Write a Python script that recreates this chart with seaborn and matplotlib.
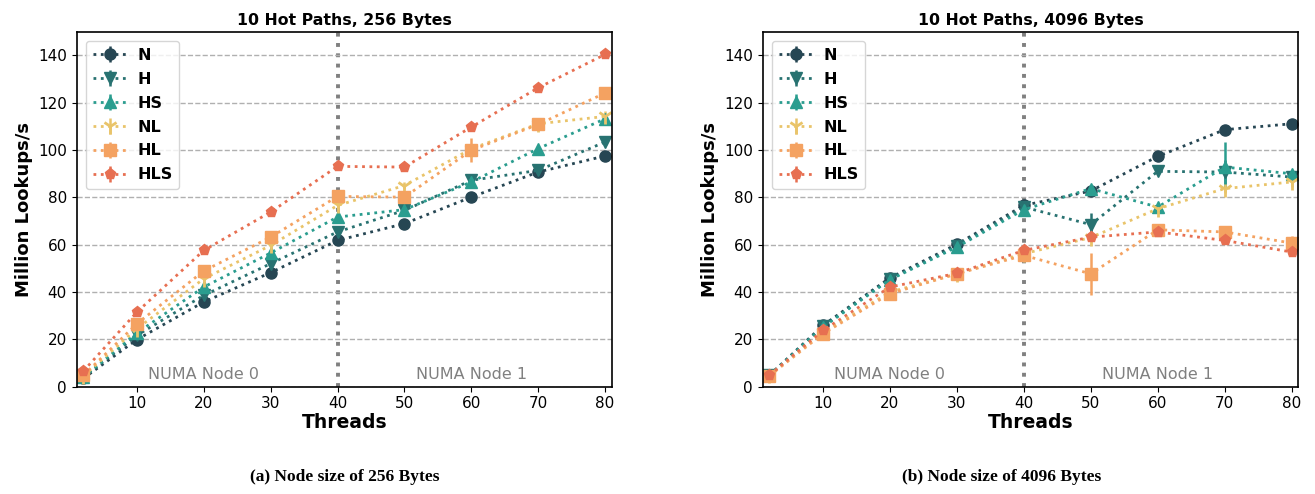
import seaborn as sns
import matplotlib.pyplot as plt
import numpy as np

sns.set_style('ticks')
plt.rcParams['font.family'] = ['DejaVu Sans']
plt.rcParams['text.color'] = 'black'
plt.rcParams['axes.labelcolor'] = 'black'
plt.rcParams['xtick.color'] = 'black'
plt.rcParams['ytick.color'] = 'black'

threads = [2, 10, 20, 30, 40, 50, 60, 70, 80]
labels = ['N', 'H', 'HS', 'NL', 'HL', 'HLS']

# 256 bytes
n_256 = [3.5, 19.9, 35.8, 48.2, 61.8, 68.9, 80.1, 90.7, 97.5]
h_256 = [4.0, 21.7, 38.6, 52.0, 65.4, 74.5, 87.2, 91.4, 103.4]
hs_256 = [4.0, 22.7, 42.1, 56.5, 71.7, 74.8, 86.5, 100.6, 113.2]
nl_256 = [4.5, 24.5, 45.6, 59.7, 76.6, 85.0, 100.5, 111.1, 114.2]
hl_256 = [4.8, 26.6, 48.9, 63.2, 80.4, 80.1, 99.9, 110.8, 124.1]
hls_256 = [6.6, 31.5, 57.6, 73.8, 93.1, 92.8, 109.7, 126.3, 140.4]
err_256 = {
    'N': [0.3, 0.5, 0.5, 0.5, 0.5, 0.5, 0.5, 0.5, 0.5],
    'H': [0.3, 0.5, 0.5, 0.5, 0.5, 0.5, 0.5, 0.5, 0.5],
    'HS': [0.3, 0.5, 0.5, 0.5, 0.5, 0.5, 0.5, 0.5, 0.5],
    'NL': [0.3, 0.5, 0.5, 0.5, 1.5, 1.5, 1.0, 0.5, 2.5],
    'HL': [0.3, 0.5, 0.5, 0.5, 0.5, 0.5, 5.0, 0.5, 1.0],
    'HLS': [0.3, 0.5, 0.5, 0.5, 0.5, 0.5, 0.5, 0.5, 0.5],
}

# 4096 bytes
n_4096 = [4.8, 25.9, 46.0, 60.2, 76.6, 82.7, 97.3, 108.6, 111.1]
h_4096 = [4.8, 25.5, 45.5, 59.5, 75.9, 68.5, 91.0, 90.7, 88.6]
hs_4096 = [4.8, 25.2, 45.2, 59.0, 74.8, 83.7, 75.9, 92.8, 90.0]
nl_4096 = [4.8, 23.0, 40.0, 47.7, 56.2, 63.0, 75.2, 83.7, 86.5]
hl_4096 = [4.6, 22.4, 39.3, 47.7, 55.5, 47.7, 66.3, 65.4, 60.7]
hls_4096 = [4.9, 23.8, 42.1, 47.9, 57.6, 63.2, 65.4, 61.8, 56.9]
err_4096 = {
    'N': [0.3, 0.5, 0.5, 0.5, 0.5, 0.5, 0.5, 0.5, 0.5],
    'H': [0.3, 0.5, 0.5, 0.5, 0.5, 5.0, 0.5, 5.0, 0.5],
    'HS': [0.3, 0.5, 0.5, 0.5, 0.5, 0.5, 0.5, 10.5, 0.5],
    'NL': [0.3, 0.5, 0.5, 0.5, 0.5, 0.5, 0.5, 2.0, 2.0],
    'HL': [0.3, 0.5, 0.5, 0.5, 0.5, 9.0, 0.5, 0.5, 3.0],
    'HLS': [0.3, 0.5, 0.5, 0.5, 0.5, 0.5, 0.5, 0.5, 0.5],
}

colors = ['#264653', '#287271', '#2a9d8f', '#e9c46a', '#f4a261', '#e76f51']
markers = ['o', 'v', '^', '1', 's', 'p']

panels = [
    ('10 Hot Paths, 256 Bytes', [n_256, h_256, hs_256, nl_256, hl_256, hls_256], err_256,
     '(a) Node size of 256 Bytes'),
    ('10 Hot Paths, 4096 Bytes', [n_4096, h_4096, hs_4096, nl_4096, hl_4096, hls_4096], err_4096,
     '(b) Node size of 4096 Bytes'),
]

fig = plt.figure(figsize=(13.15, 4.94), dpi=100)
ax_pos = [[0.0583, 0.2172, 0.4069, 0.7186], [0.58, 0.2172, 0.4073, 0.7186]]
cap_x = [0.262, 0.762]

for i, (title, series, errs, caption) in enumerate(panels):
    ax = fig.add_axes(ax_pos[i])
    for lab, vals, c, m in zip(labels, series, colors, markers):
        ms = 11 if m == '1' else 8
        mew = 2 if m == '1' else 1
        ax.errorbar(threads, vals, yerr=errs[lab], color=c, ecolor=c, marker=m,
                    markersize=ms, markeredgewidth=mew, linestyle=':', linewidth=2,
                    elinewidth=1.8, capsize=0, label=lab)
    ax.axvline(40, color='#808080', linestyle=':', linewidth=2.8, zorder=0)
    ax.text(20, 5, 'NUMA Node 0', color='#808080', fontsize=11.5, ha='center', va='center')
    ax.text(60, 5, 'NUMA Node 1', color='#808080', fontsize=11.5, ha='center', va='center')
    ax.set_xlim(1, 81)
    ax.set_ylim(0, 150)
    ax.set_xticks(range(10, 81, 10))
    ax.set_yticks(range(0, 141, 20))
    ax.yaxis.grid(True, linestyle='--', color='#b0b0b0', linewidth=1)
    ax.set_axisbelow(True)
    ax.tick_params(labelsize=11, colors='black')
    for s in ax.spines.values():
        s.set_color('black')
        s.set_linewidth(1.2)
    ax.set_title(title, fontsize=11.3, fontweight='bold', pad=5)
    ax.set_xlabel('Threads', fontsize=13.5, fontweight='bold', labelpad=1)
    ax.set_ylabel('Million Lookups/s', fontsize=13, fontweight='bold')
    ax.legend(loc='upper left', prop={'weight': 'bold', 'size': 11.5},
              handlelength=2.2, handletextpad=0.6, labelspacing=0.56,
              borderaxespad=0.6)
    fig.text(cap_x[i], 0.035, caption, family='Liberation Serif', fontweight='bold',
             fontsize=12.5, ha='center', va='center')

fig.savefig('out.png', dpi=100)
